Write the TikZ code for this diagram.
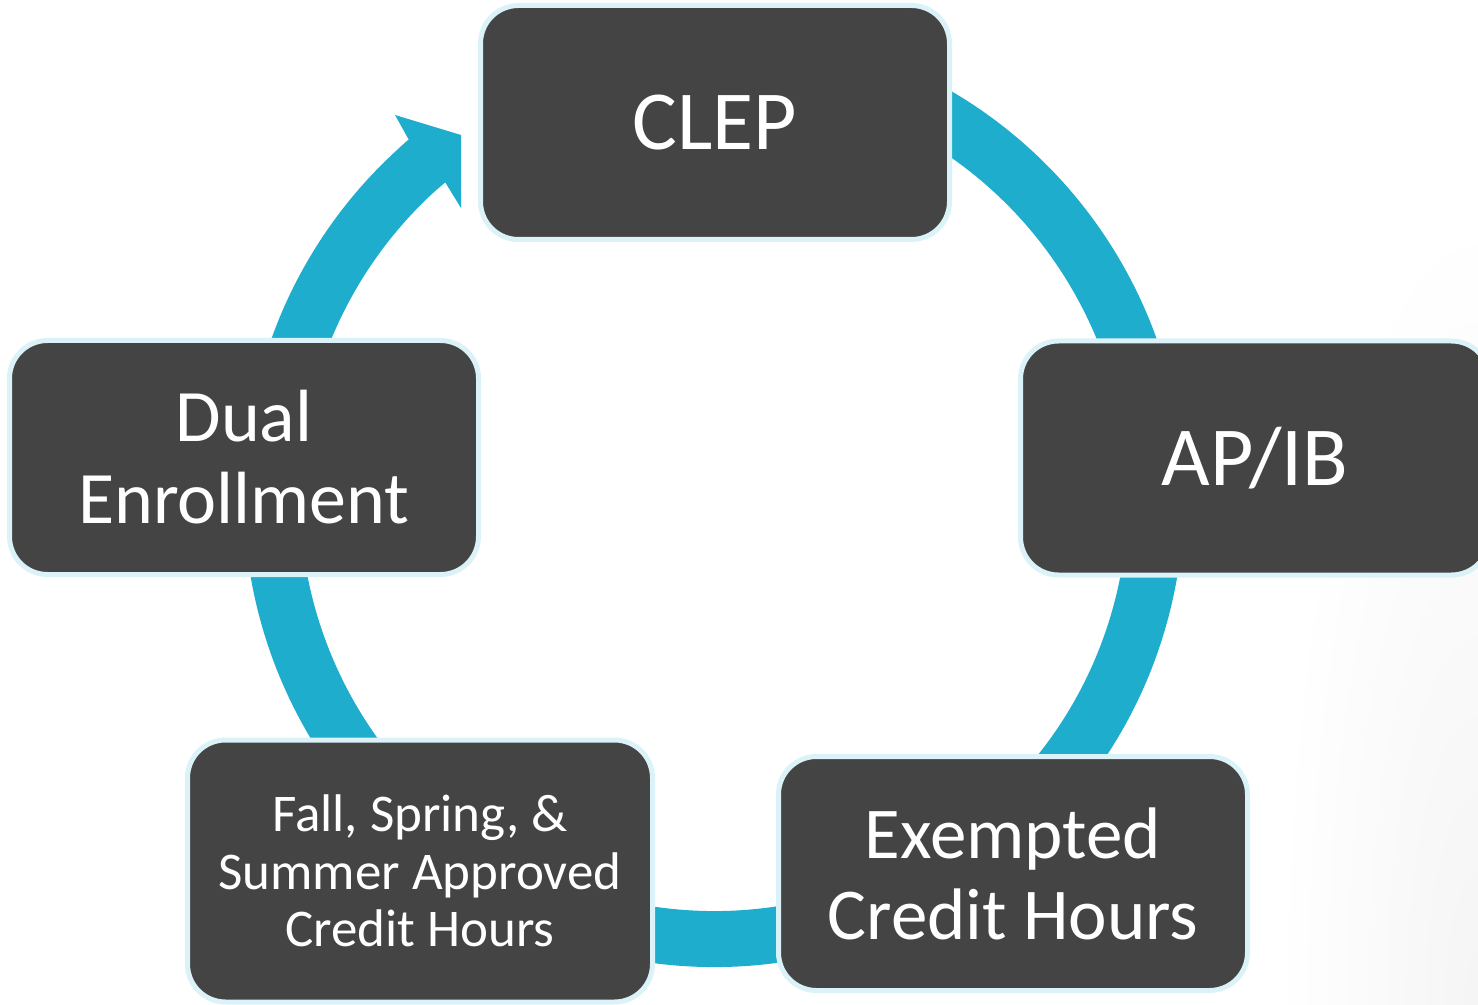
\documentclass[tikz,border=0pt]{standalone}
\usepackage{fontspec}
\setmainfont{Carlito}
\usetikzlibrary{calc}
\definecolor{ringc}{HTML}{1FADCE}
\definecolor{boxfill}{HTML}{444444}
\definecolor{boxline}{HTML}{DBF3F8}
\begin{document}
\begin{tikzpicture}[x=0.5pt,y=-0.5pt,
  cyclebox/.style={draw=boxline, line width=2.5pt, fill=boxfill, rounded corners=19pt,
    text=white, align=center, inner sep=0pt, minimum width=234.5pt, minimum height=117pt}]
\clip (0,0) rectangle (1478,1005);
\fill[white] (0,0) rectangle (1478,1005);
\shade[inner color=black!4, outer color=white] (1478,1005) ellipse [x radius=200, y radius=800];
\coordinate (c) at (714,497);
% ring
\draw[ringc, line width=28pt] (c) ++(-80:442) arc (-80:229.5:442);
% arrow head
\fill[ringc] ($(c)+(228:470)$) -- ($(c)+(229.5:470)$) -- (395,115) -- (461,135) -- (461,208)
  -- ($(c)+(229.5:414)$) -- ($(c)+(228:414)$) -- cycle;
% boxes
\node[cyclebox, font=\fontsize{42pt}{46pt}\selectfont] (clep) at (715,122.5) {CLEP};
\node[cyclebox, font=\fontsize{42pt}{46pt}\selectfont] (apib) at (1255,458) {AP/IB};
\node[cyclebox, font=\fontsize{37pt}{41pt}\selectfont] (dual) at (244,457.5) {Dual\\Enrollment};
\node[cyclebox, font=\fontsize{36.5pt}{40.5pt}\selectfont] (exempt) at (1013,873.5) {Exempted\\Credit Hours};
\node[cyclebox, minimum width=232.5pt, minimum height=131pt, font=\fontsize{26.5pt}{28.75pt}\selectfont] (fall) at (420,871) {Fall, Spring, \&\\Summer Approved\\Credit Hours};
\end{tikzpicture}
\end{document}
